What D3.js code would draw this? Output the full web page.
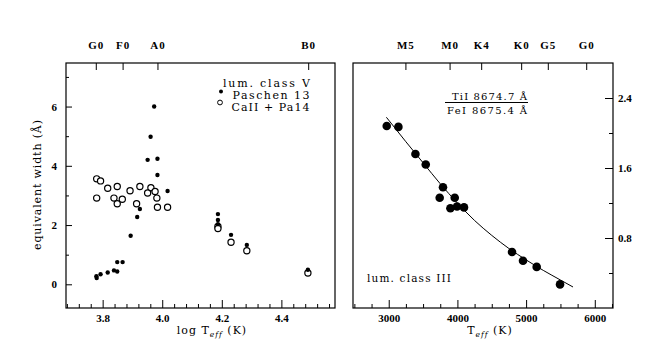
<!DOCTYPE html>
<html><head><meta charset="utf-8">
<script src="https://cdn.jsdelivr.net/npm/d3@7"></script>
<style>
html,body{margin:0;padding:0;background:#fff;}
svg{display:block;}
.tk text{font-family:"Liberation Serif",serif;font-weight:bold;font-size:11px;fill:#000;}
.sp text{font-family:"Liberation Serif",serif;font-weight:bold;font-size:11px;fill:#000;letter-spacing:1px;}
.lbl{font-family:"DejaVu Serif",serif;fill:#000;}
</style></head>
<body>
<script>
// ---- Left panel: lum. class V ----
const pa13LogT = [3.973,3.961,3.951,3.984,3.984,4.018,3.925,3.916,3.894,3.849,3.867,3.780,3.779,3.793,3.817,3.838,3.849,4.187,4.187,4.187,4.231,4.284,4.489];
const pa13W    = [6.00,4.98,4.20,4.24,3.69,3.15,2.54,2.27,1.64,0.75,0.75,0.21,0.27,0.34,0.40,0.47,0.43,2.37,2.17,2.03,1.67,1.33,0.49];
const caLogT   = [3.780,3.793,3.817,3.849,3.780,3.838,3.849,3.866,3.892,3.925,3.962,3.951,3.976,3.982,3.914,3.984,4.018,4.187,4.187,4.231,4.284,4.489];
const caW      = [3.56,3.49,3.24,3.30,2.91,2.91,2.72,2.87,3.16,3.30,3.26,3.08,3.13,2.91,2.72,2.60,2.60,1.95,1.88,1.42,1.13,0.38];
const leftXTicks = [3.8,4.0,4.2,4.4];
const leftXTickLabels = ["3.8","4.0","4.2","4.4"];
const leftYTicks = [0,2,4,6];
const leftSpTypes = ["G0","F0","A0","B0"];
const leftSpLogT = [3.777,3.867,3.984,4.49];

// ---- Right panel: lum. class III ----
const giantT     = [2971,3141,3389,3539,3790,3742,3961,3898,3994,4096,4795,4955,5154,5494];
const giantRatio = [2.08,2.07,1.76,1.64,1.38,1.26,1.26,1.14,1.16,1.15,0.64,0.54,0.47,0.27];
const fitT       = [2966,3250,3500,3750,4000,4250,4500,4750,5000,5250,5500,5683];
const fitRatio   = [2.18,1.90,1.66,1.42,1.20,1.00,0.83,0.68,0.55,0.43,0.32,0.24];
const rightXTicks = [3000,4000,5000,6000];
const rightYTicks = [0.8,1.6,2.4];
const rightSpTypes = ["M5","M0","K4","K0","G5","G0"];
const rightSpT = [3243,3886,4346,4928,5316,5875];

const W = 667, H = 357;
const svg = d3.select("body").append("svg").attr("width",W).attr("height",H);

const L = {x0:66, x1:335, y0:63, y1:308};
const R = {x0:353, x1:613, y0:63, y1:308};

const xL = d3.scaleLinear().domain([3.677,4.58]).range([L.x0,L.x1]);
const yL = d3.scaleLinear().domain([-0.8,7.47]).range([L.y1,L.y0]);
const xR = d3.scaleLinear().domain([2480,6265]).range([R.x0,R.x1]);
const yR = d3.scaleLinear().domain([0,2.8]).range([R.y1,R.y0]);

function range(a,b,s){const r=[];for(let v=a;v<=b+1e-9;v+=s)r.push(+v.toFixed(4));return r;}
function clean(g){g.select(".domain").remove(); g.selectAll("line").attr("stroke","#000").attr("stroke-width",1);}

// Left bottom axis
const lbMinor = range(3.68,4.56,0.04).filter(v=>!leftXTicks.some(t=>Math.abs(t-v)<1e-6));
svg.append("g").attr("transform",`translate(0,${L.y1})`)
  .call(d3.axisBottom(xL).tickValues(lbMinor).tickSizeInner(-4).tickFormat(""))
  .call(clean);
svg.append("g").attr("class","tk").attr("transform",`translate(0,${L.y1})`)
  .call(d3.axisBottom(xL).tickValues(leftXTicks).tickSizeInner(-8).tickPadding(6)
    .tickFormat((d,i)=>leftXTickLabels[i]))
  .call(clean);
// Left y axis
svg.append("g").attr("transform",`translate(${L.x0},0)`)
  .call(d3.axisLeft(yL).tickValues([1,3,5,7]).tickSizeInner(-3).tickFormat(""))
  .call(clean);
svg.append("g").attr("class","tk").attr("transform",`translate(${L.x0},0)`)
  .call(d3.axisLeft(yL).tickValues(leftYTicks).tickSizeInner(-6).tickPadding(9).tickFormat(d3.format("d")))
  .call(clean);
// Left top spectral axis
svg.append("g").attr("class","sp").attr("transform",`translate(0,${L.y0})`)
  .call(d3.axisTop(xL).tickValues(leftSpLogT).tickSizeInner(-7).tickPadding(14)
    .tickFormat((d,i)=>leftSpTypes[i]))
  .call(clean);

// Right bottom axis
const rbMinor = range(2500,6250,250).filter(v=>!rightXTicks.includes(v));
svg.append("g").attr("transform",`translate(0,${R.y1})`)
  .call(d3.axisBottom(xR).tickValues(rbMinor).tickSizeInner(-4).tickFormat(""))
  .call(clean);
svg.append("g").attr("class","tk").attr("transform",`translate(0,${R.y1})`)
  .call(d3.axisBottom(xR).tickValues(rightXTicks).tickSizeInner(-8).tickPadding(6).tickFormat(d3.format("d")))
  .call(clean);
// Right y axis (on right side)
svg.append("g").attr("transform",`translate(${R.x1},0)`)
  .call(d3.axisRight(yR).tickValues([0.4,1.2,2.0]).tickSizeInner(-4).tickFormat(""))
  .call(clean);
svg.append("g").attr("class","tk").attr("transform",`translate(${R.x1},0)`)
  .call(d3.axisRight(yR).tickValues(rightYTicks).tickSizeInner(-8).tickPadding(5).tickFormat(d3.format(".1f")))
  .call(clean);
// Right top spectral axis
svg.append("g").attr("class","sp").attr("transform",`translate(0,${R.y0})`)
  .call(d3.axisTop(xR).tickValues(rightSpT).tickSizeInner(-7).tickPadding(14)
    .tickFormat((d,i)=>rightSpTypes[i]))
  .call(clean);

// Frames
[L,R].forEach(p=>svg.append("rect").attr("x",p.x0).attr("y",p.y0)
  .attr("width",p.x1-p.x0).attr("height",p.y1-p.y0)
  .attr("fill","none").attr("stroke","#000").attr("stroke-width",1.2));

// Left data
const gL = svg.append("g");
gL.selectAll("circle.ca").data(caLogT.map((x,i)=>[x,caW[i]])).join("circle")
  .attr("class","ca").attr("cx",d=>xL(d[0])).attr("cy",d=>yL(d[1])).attr("r",3.1)
  .attr("fill","#fff").attr("stroke","#000").attr("stroke-width",1.2);
gL.selectAll("circle.pa").data(pa13LogT.map((x,i)=>[x,pa13W[i]])).join("circle")
  .attr("class","pa").attr("cx",d=>xL(d[0])).attr("cy",d=>yL(d[1])).attr("r",2.2)
  .attr("fill","#000");

function lbl(x,y,size,len,txt,anchor){
  return svg.append("text").attr("class","lbl").attr("x",x).attr("y",y)
    .attr("font-size",size).attr("text-anchor",anchor||"start")
    .attr("textLength",len).attr("lengthAdjust","spacing").text(txt);
}
// Left legend
lbl(223,87,11,87,"lum. class V");
svg.append("circle").attr("cx",221).attr("cy",91.5).attr("r",2).attr("fill","#000");
lbl(232.5,99,11,77,"Paschen 13");
svg.append("circle").attr("cx",220).attr("cy",102.5).attr("r",2.4).attr("fill","none").attr("stroke","#000").attr("stroke-width",1);
lbl(231.5,110.5,11,78,"CaII + Pa14");

// Right data
const line = d3.line().x(d=>xR(d[0])).y(d=>yR(d[1])).curve(d3.curveMonotoneX);
svg.append("path").attr("d",line(fitT.map((t,i)=>[t,fitRatio[i]])))
  .attr("fill","none").attr("stroke","#000").attr("stroke-width",1);
svg.append("g").selectAll("circle").data(giantT.map((t,i)=>[t,giantRatio[i]])).join("circle")
  .attr("cx",d=>xR(d[0])).attr("cy",d=>yR(d[1])).attr("r",4.3).attr("fill","#000");

// Right labels
lbl(452,99.5,10,75,"TiI 8674.7 Å");
svg.append("line").attr("x1",445).attr("x2",528).attr("y1",102.5).attr("y2",102.5).attr("stroke","#000").attr("stroke-width",1);
lbl(447,113.5,10,80,"FeI 8675.4 Å");
lbl(367,282,10.5,84,"lum. class III");

// Axis titles
const t1 = svg.append("text").attr("class","lbl").attr("x",212).attr("y",334).attr("text-anchor","middle").attr("font-size",11).attr("letter-spacing","1px");
t1.append("tspan").text("log T");
t1.append("tspan").attr("font-size",7.5).attr("dy",3).attr("font-style","italic").text("eff");
t1.append("tspan").attr("dy",-3).text(" (K)");
const t2 = svg.append("text").attr("class","lbl").attr("x",490).attr("y",334).attr("text-anchor","middle").attr("font-size",11).attr("letter-spacing","1px");
t2.append("tspan").text("T");
t2.append("tspan").attr("font-size",7.5).attr("dy",3).attr("font-style","italic").text("eff");
t2.append("tspan").attr("dy",-3).text(" (K)");
svg.append("text").attr("class","lbl").attr("transform","translate(41,185) rotate(-90)")
  .attr("text-anchor","middle").attr("font-size",11).attr("textLength",130).attr("lengthAdjust","spacing")
  .text("equivalent width (Å)");
</script>
</body></html>
